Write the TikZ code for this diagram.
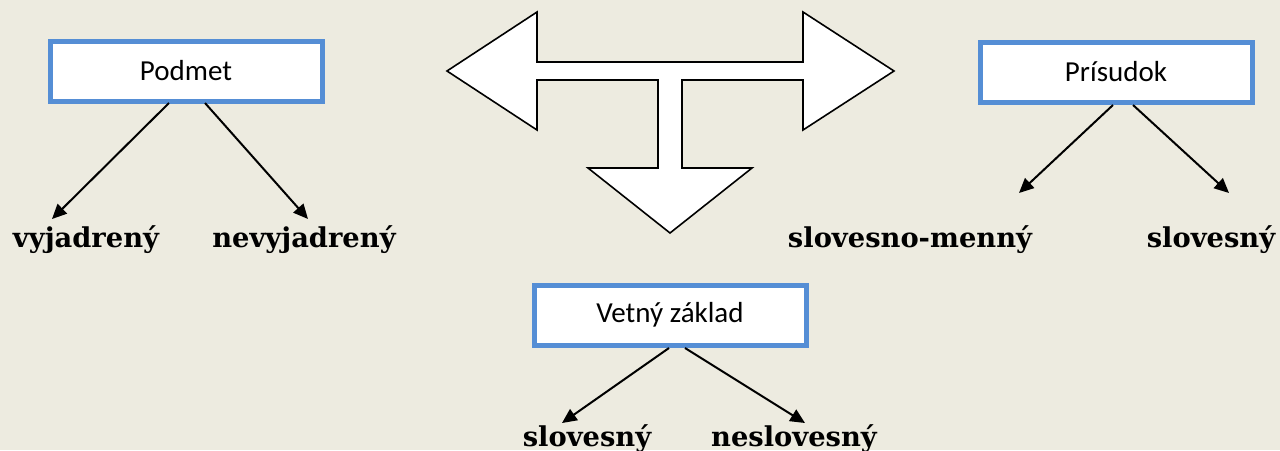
\documentclass[tikz,border=0pt]{standalone}
\usepackage{fontspec}
\setmainfont{Carlito}
\newfontfamily\lblfont{DejaVu Serif}
\usetikzlibrary{arrows.meta}
\definecolor{bg}{RGB}{237,235,224}
\definecolor{boxblue}{RGB}{85,142,213}
\begin{document}
\begin{tikzpicture}[x=0.75pt,y=-0.75pt,
  box/.style={draw=boxblue,line width=3.75pt,fill=white,minimum width=204pt,minimum height=45pt,inner sep=0pt,outer sep=0pt,font=\fontsize{21.75pt}{26pt}\selectfont},
  lbl/.style={anchor=base,inner sep=0pt,font=\lblfont\bfseries\fontsize{20.5pt}{24pt}\selectfont},
  conn/.style={line width=1.5pt,-{Triangle[length=11pt,width=10pt]}}]
\fill[bg] (0,0) rectangle (1280,450);
\useasboundingbox (0,0) rectangle (1280,450);
% big T arrow
\draw[line width=1.2pt,fill=white,line join=miter]
 (447,71) -- (537,12) -- (537,62) -- (803,62) -- (803,12) -- (894,71) -- (803,130) -- (803,80)
 -- (682,80) -- (682,168) -- (752,168) -- (670,233) -- (588,168) -- (658,168) -- (658,80)
 -- (537,80) -- (537,130) -- cycle;
% boxes
\node[box] (podmet) at (186,71) {Podmet};
\node[box] (prisudok) at (1116,72) {Prísudok};
\node[box] (zaklad) at (670,315) {Vetný základ};
% labels
\node[lbl] (vyj) at (86,247) {vyjadrený};
\node[lbl] (nevyj) at (304,247) {nevyjadrený};
\node[lbl] (slm) at (910,247) {slovesno-menný};
\node[lbl] (slv1) at (1211,247) {slovesný};
\node[lbl] (slv2) at (587,446) {slovesný};
\node[lbl] (nslv) at (794,446) {neslovesný};
% connector ends
\coordinate (p1) at (169,103);
\coordinate (p2) at (205,103);
\coordinate (t1) at (52,219);
\coordinate (t2) at (308,219);
\coordinate (r1) at (1113,105);
\coordinate (r2) at (1133,105);
\coordinate (u1) at (1019,193);
\coordinate (u2) at (1229,193);
\coordinate (z1) at (669,348);
\coordinate (z2) at (685,348);
\coordinate (w1) at (562,423);
\coordinate (w2) at (805,423);
\draw[conn] (p1) -- (t1);
\draw[conn] (p2) -- (t2);
\draw[conn] (r1) -- (u1);
\draw[conn] (r2) -- (u2);
\draw[conn] (z1) -- (w1);
\draw[conn] (z2) -- (w2);
\end{tikzpicture}
\end{document}
